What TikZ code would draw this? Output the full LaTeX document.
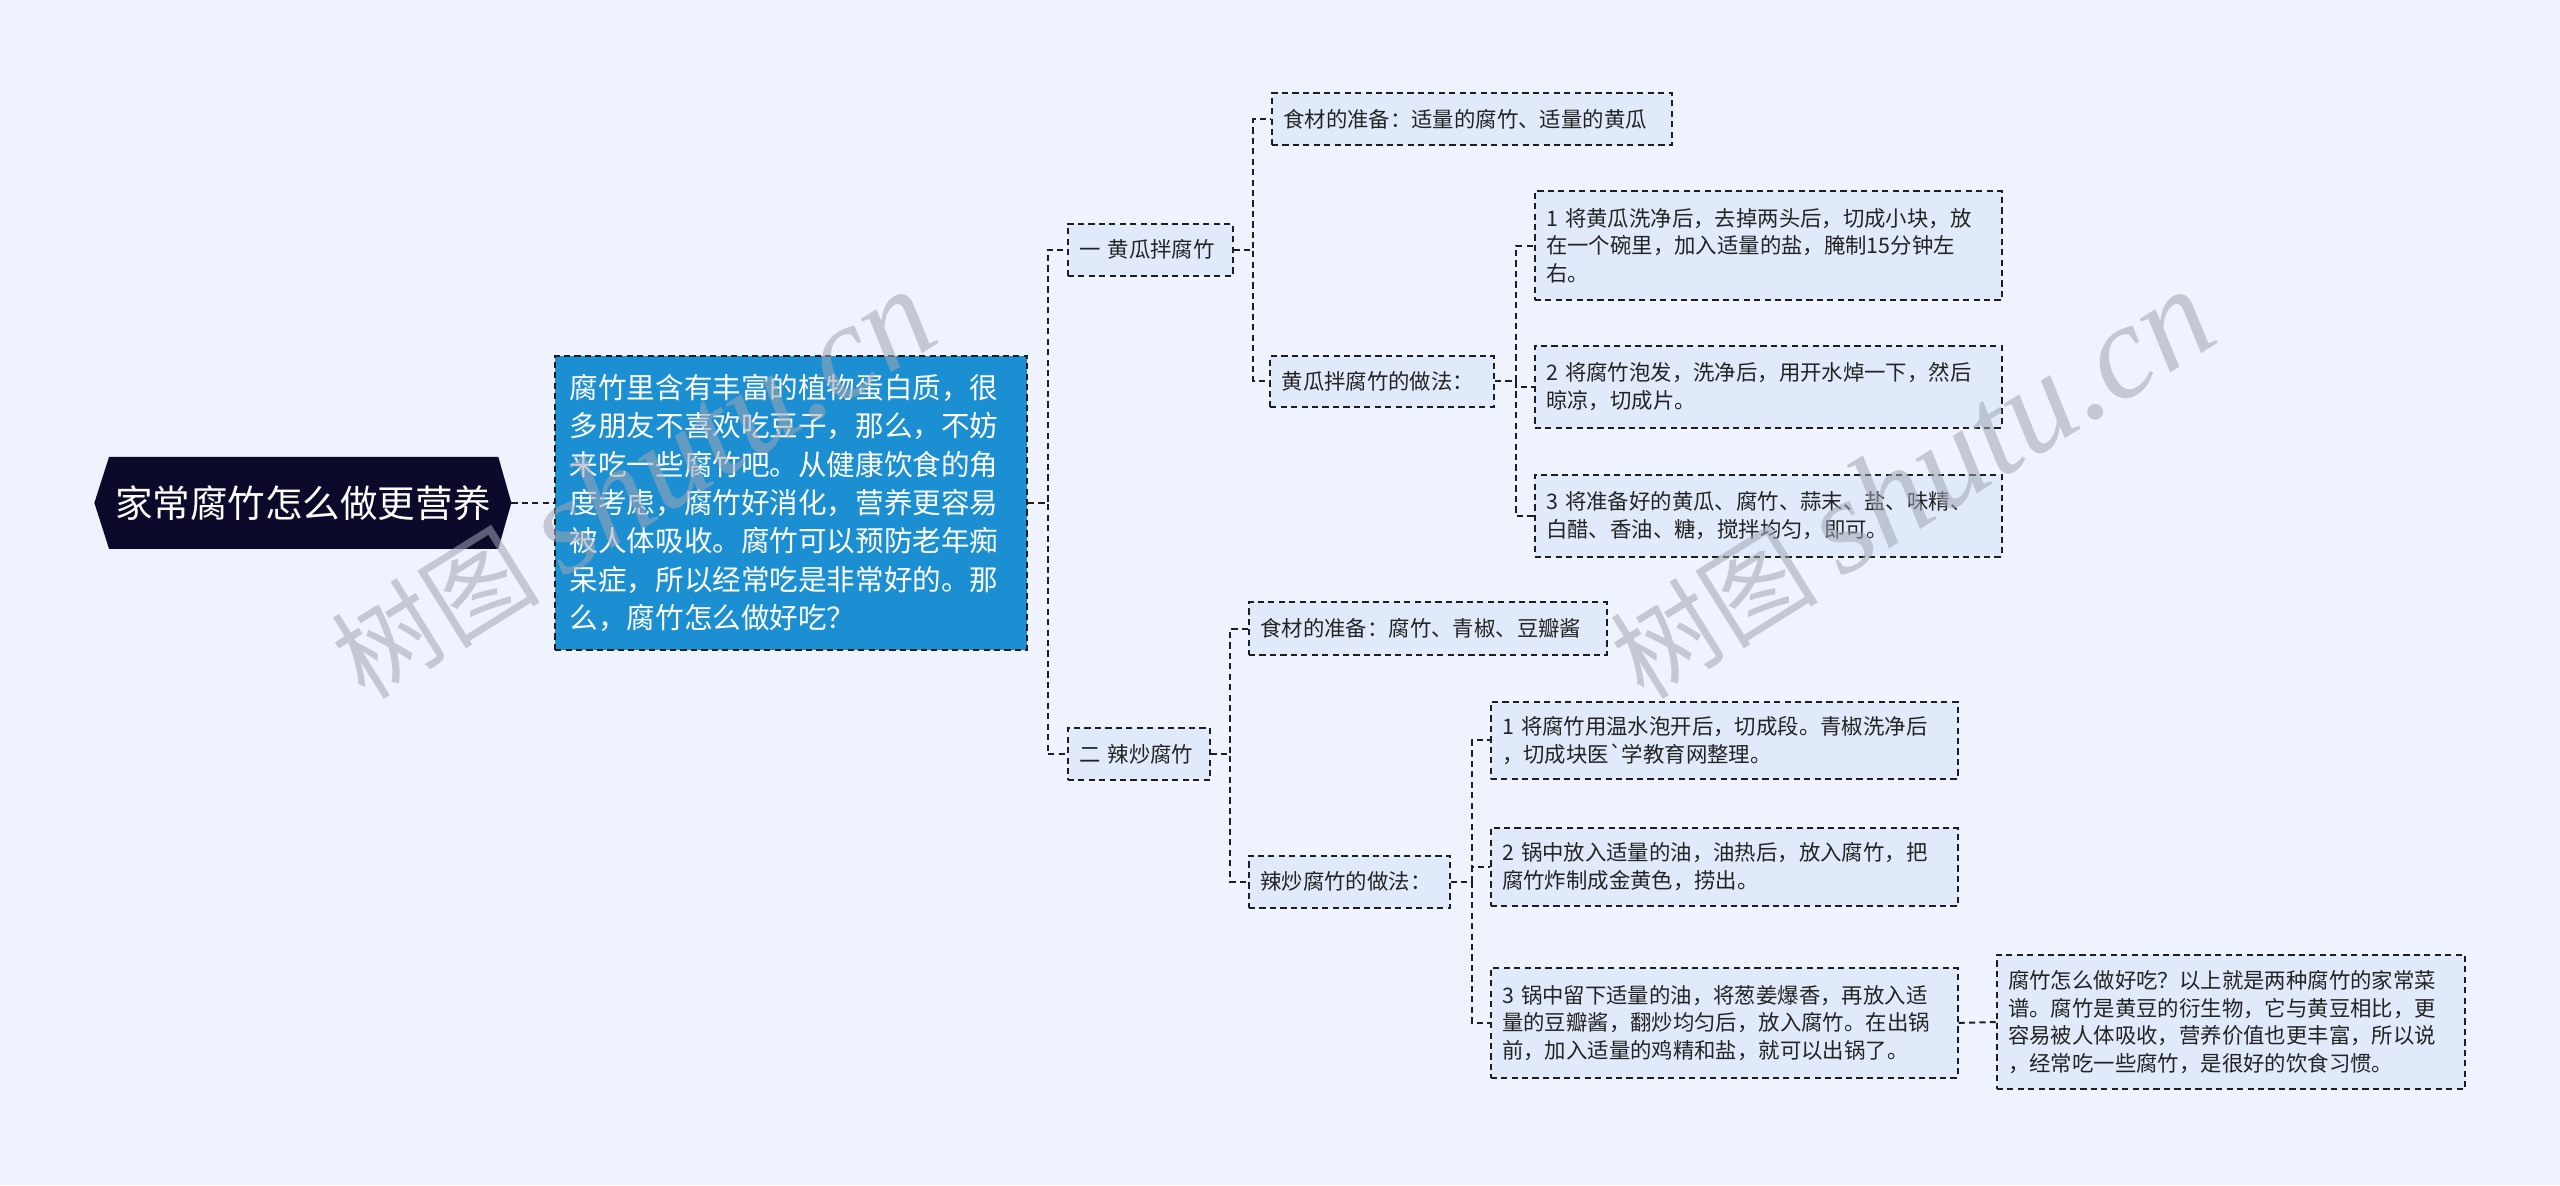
\documentclass[tikz,border=0pt]{standalone}
\usepackage{fontspec}
\setmainfont{Noto Sans CJK SC}
\newfontfamily\wmlatin{Liberation Serif}
\usetikzlibrary{backgrounds}
\definecolor{bgc}{RGB}{238,243,253}
\definecolor{rootfill}{RGB}{12,10,43}
\definecolor{introfill}{RGB}{28,143,210}
\definecolor{boxfill}{RGB}{225,234,250}
\definecolor{edge}{RGB}{30,30,30}
\definecolor{txt}{RGB}{35,35,35}
\definecolor{wmc}{RGB}{160,166,180}
\begin{document}
\begin{tikzpicture}[x=1pt,y=-1pt,
  box/.style={draw=edge, fill=boxfill, dash pattern=on 3.8pt off 2.6pt, line width=1.25pt,
    inner xsep=7pt, inner ysep=0pt, align=left, text=txt,
    font=\fontsize{13.1}{17}\selectfont},
  conn/.style={draw=edge, dash pattern=on 3.8pt off 2.6pt, line width=1.2pt},
  wm/.style={text=wmc, opacity=0.55, rotate=32, inner sep=0pt}]
\useasboundingbox (0,0) rectangle (1568,726);

% root
\node[text=white, font=\fontsize{23}{26}\selectfont, minimum width=255pt, minimum height=56pt, inner sep=0pt]
  (root) at (185.5,308) {家常腐竹怎么做更营养};

% intro
\node[draw=edge, fill=introfill, dash pattern=on 3.8pt off 2.6pt, line width=1.25pt,
  text=white, align=left, inner xsep=9pt, inner ysep=0pt, text width=271pt,
  minimum height=180pt, font=\fontsize{17.5}{23.5}\selectfont]
  (intro) at (484.5,308) {腐竹里含有丰富的植物蛋白质，很\\多朋友不喜欢吃豆子，那么，不妨\\来吃一些腐竹吧。从健康饮食的角\\度考虑，腐竹好消化，营养更容易\\被人体吸收。腐竹可以预防老年痴\\呆症，所以经常吃是非常好的。那\\么，腐竹怎么做好吃？};

% level 1
\node[box, text width=87pt, minimum height=32pt] (L1a) at (704.5,153) {一 黄瓜拌腐竹};
\node[box, text width=73pt, minimum height=32pt] (L1b) at (697.5,462) {二 辣炒腐竹};

% branch 1
\node[box, text width=231pt, minimum height=32pt] (a1) at (901.5,73) {食材的准备：适量的腐竹、适量的黄瓜};
\node[box, text width=123pt, minimum height=31pt] (a2) at (846.5,233.5) {黄瓜拌腐竹的做法：};
\node[box, text width=272pt, minimum height=67pt] (a2s1) at (1083,150.5) {1 将黄瓜洗净后，去掉两头后，切成小块，放\\在一个碗里，加入适量的盐，腌制15分钟左\\右。};
\node[box, text width=272pt, minimum height=50pt] (a2s2) at (1083,237) {2 将腐竹泡发，洗净后，用开水焯一下，然后\\晾凉，切成片。};
\node[box, text width=272pt, minimum height=50pt] (a2s3) at (1083,316) {3 将准备好的黄瓜、腐竹、蒜末、盐、味精、\\白醋、香油、糖，搅拌均匀，即可。};

% branch 2
\node[box, text width=205pt, minimum height=32pt] (b1) at (874.5,385) {食材的准备：腐竹、青椒、豆瓣酱};
\node[box, text width=109pt, minimum height=32pt] (b2) at (826.5,540) {辣炒腐竹的做法：};
\node[box, text width=272pt, minimum height=47pt] (b2s1) at (1056,453.5) {1 将腐竹用温水泡开后，切成段。青椒洗净后\\，切成块医\textasciigrave 学教育网整理。};
\node[box, text width=272pt, minimum height=48pt] (b2s2) at (1056,531) {2 锅中放入适量的油，油热后，放入腐竹，把\\腐竹炸制成金黄色，捞出。};
\node[box, text width=272pt, minimum height=67pt] (b2s3) at (1056,626.5) {3 锅中留下适量的油，将葱姜爆香，再放入适\\量的豆瓣酱，翻炒均匀后，放入腐竹。在出锅\\前，加入适量的鸡精和盐，就可以出锅了。};
\node[box, text width=273pt, minimum height=82pt] (sum) at (1366.5,626) {腐竹怎么做好吃？以上就是两种腐竹的家常菜\\谱。腐竹是黄豆的衍生物，它与黄豆相比，更\\容易被人体吸收，营养价值也更丰富，所以说\\，经常吃一些腐竹，是很好的饮食习惯。};

\begin{scope}[on background layer]
\fill[bgc] (0,0) rectangle (1568,726);
\fill[rootfill] (root.west) -- ([xshift=9pt]root.north west) -- ([xshift=-8pt]root.north east)
  -- (root.east) -- ([xshift=-8pt]root.south east) -- ([xshift=9pt]root.south west) -- cycle;
% connectors
\draw[conn] (root.east) -- (intro.west);
\draw[conn] (intro.east) -- ++(12,0) |- (L1a.west);
\draw[conn] (intro.east) -- ++(12,0) |- (L1b.west);
\draw[conn] (L1a.east) -- ++(12,0) |- (a1.west);
\draw[conn] (L1a.east) -- ++(12,0) |- (a2.west);
\draw[conn] (a2.east) -- ++(13,0) |- (a2s1.west);
\draw[conn] (a2.east) -- ++(13,0) |- (a2s2.west);
\draw[conn] (a2.east) -- ++(13,0) |- (a2s3.west);
\draw[conn] (L1b.east) -- ++(12,0) |- (b1.west);
\draw[conn] (L1b.east) -- ++(12,0) |- (b2.west);
\draw[conn] (b2.east) -- ++(13,0) |- (b2s1.west);
\draw[conn] (b2.east) -- ++(13,0) |- (b2s2.west);
\draw[conn] (b2.east) -- ++(13,0) |- (b2s3.west);
\draw[conn] (b2s3.east) -- (sum.west);
\end{scope}

% watermarks
\node[wm, anchor=base west] (wm1) at (224,430) {\fontsize{64}{64}\selectfont 树图 {\wmlatin\itshape\fontsize{82}{82}\selectfont shutu.cn}};
\node[wm, anchor=base west] (wm2) at (1007,430) {\fontsize{64}{64}\selectfont 树图 {\wmlatin\itshape\fontsize{82}{82}\selectfont shutu.cn}};
\end{tikzpicture}
\end{document}
